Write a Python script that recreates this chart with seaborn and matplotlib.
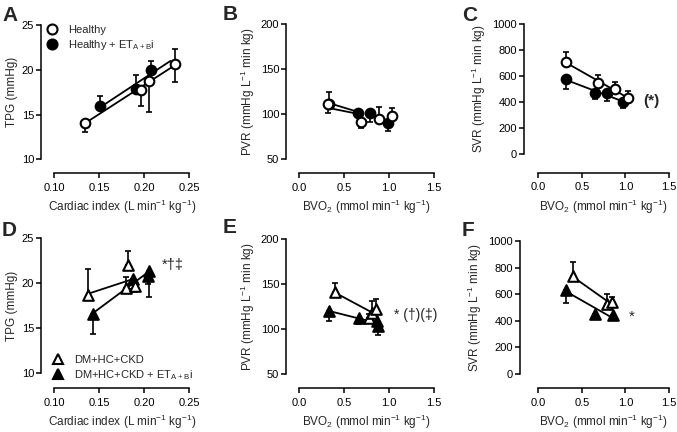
import numpy as np
import pandas as pd
import matplotlib
matplotlib.use("Agg")
import matplotlib.pyplot as plt
from matplotlib.lines import Line2D
import seaborn as sns

sns.set_style("ticks")
plt.rcParams["font.family"] = ["Liberation Sans", "DejaVu Sans"]
plt.rcParams["mathtext.default"] = "regular"

# ---------------- data ----------------
# Panel A  TPG vs cardiac index, healthy
A_open_x = [0.134, 0.196, 0.205, 0.234]
A_open_y = [14.1, 17.7, 18.8, 20.6]
A_open_lo = [1.1, 1.7, 3.5, 2.0]
A_open_hi = [0.0, 0.0, 0.0, 1.7]
A_fill_x = [0.151, 0.191, 0.207]
A_fill_y = [16.0, 17.8, 20.0]
A_fill_lo = [0.0, 0.0, 0.0]
A_fill_hi = [1.1, 1.6, 1.0]
A_open_range = [0.134, 0.234]
A_fill_range = [0.151, 0.229]

# Panel B  PVR vs BVO2, healthy
B_open_x = [0.326, 0.685, 0.885, 1.037]
B_open_y = [111.4, 91.8, 94.4, 98.1]
B_open_lo = [10.3, 6.8, 0.0, 0.0]
B_open_hi = [0.0, 0.0, 14.0, 8.5]
B_fill_x = [0.33, 0.659, 0.789, 0.985]
B_fill_y = [112.0, 101.8, 101.8, 90.7]
B_fill_lo = [0.0, 0.0, 10.0, 9.0]
B_fill_hi = [13.0, 0.0, 0.0, 0.0]
B_open_range = [0.33, 0.66]
B_fill_range = [0.33, 0.66]

# Panel C  SVR vs BVO2, healthy
C_open_x = [0.318, 0.688, 0.879, 1.032]
C_open_y = [710, 545, 499, 434]
C_open_lo = [0, 0, 0, 0]
C_open_hi = [73, 64, 58, 54]
C_fill_x = [0.318, 0.65, 0.784, 0.975]
C_fill_y = [576, 468, 468, 404]
C_fill_lo = [77, 44, 56, 51]
C_fill_hi = [0, 0, 0, 0]
C_open_range = [0.318, 1.032]
C_fill_range = [0.318, 0.975]

# Panel D  TPG vs cardiac index, DM+HC+CKD
D_open_x = [0.137, 0.182, 0.180, 0.190]
D_open_y = [18.7, 22.0, 19.5, 19.7]
D_open_lo = [0.0, 0.0, 0.0, 0.7]
D_open_hi = [2.9, 1.6, 1.2, 0.0]
D_fill_x = [0.1435, 0.188, 0.204, 0.2055]
D_fill_y = [16.6, 20.5, 20.8, 21.4]
D_fill_lo = [2.2, 1.1, 0.9, 2.9]
D_fill_hi = [0.0, 0.0, 0.0, 0.0]
D_open_range = [0.137, 0.190]
D_fill_range = [0.1435, 0.2055]

# Panel E  PVR vs BVO2, DM+HC+CKD
E_open_x = [0.40, 0.78, 0.81, 0.852]
E_open_y = [141.5, 112.5, 118.0, 122.5]
E_open_lo = [0, 0, 0, 0]
E_open_hi = [10, 4, 13, 11]
E_fill_x = [0.337, 0.67, 0.872, 0.88]
E_fill_y = [119.5, 112.0, 108.5, 103.5]
E_fill_lo = [11, 7, 0, 10]
E_fill_hi = [0, 0, 0, 0]
E_open_range = [0.40, 0.807]
E_fill_range = [0.337, 0.807]

# Panel F  SVR vs BVO2, DM+HC+CKD
F_open_x = [0.393, 0.79, 0.845]
F_open_y = [735, 530, 540]
F_open_lo = [0, 0, 0]
F_open_hi = [110, 70, 40]
F_fill_x = [0.322, 0.656, 0.861]
F_fill_y = [635, 453, 444]
F_fill_lo = [103, 37, 30]
F_fill_hi = [0, 0, 0]
F_open_range = [0.39, 0.823]
F_fill_range = [0.325, 0.843]

ci_ticks = [0.10, 0.15, 0.20, 0.25]
ci_ticklabels = ["0.10", "0.15", "0.20", "0.25"]
bvo_ticks = [0.0, 0.5, 1.0, 1.5]
bvo_ticklabels = ["0.0", "0.5", "1.0", "1.5"]
tpg_ticks = [10, 15, 20, 25]
pvr_ticks = [50, 100, 150, 200]
svr_ticks = [0, 200, 400, 600, 800, 1000]

ci_label = "Cardiac index (L min$^{-1}$ kg$^{-1}$)"
bvo_label = "BVO$_2$ (mmol min$^{-1}$ kg$^{-1}$)"
tpg_label = "TPG (mmHg)"
pvr_label = "PVR (mmHg L$^{-1}$ min kg)"
svr_label = "SVR (mmHg L$^{-1}$ min kg)"

legend_top = ["Healthy", "Healthy + ET$_{A+B}$i"]
legend_bottom = ["DM+HC+CKD", "DM+HC+CKD + ET$_{A+B}$i"]

# ---------------- layout ----------------
W, H = 677, 432
fig = plt.figure(figsize=(W / 100, H / 100), dpi=100)

def px_axes(x0, y0, x1, y1):
    return fig.add_axes([x0 / W, 1 - y1 / H, (x1 - x0) / W, (y1 - y0) / H])

PT = 0.72  # px -> pt

panels = [
    dict(name="A", rect=(54.3, 25, 189.3, 159.3), yspine=41, xspine=173,
         letter=(2, 21),
         xlim=(0.10, 0.25), ylim=(10, 25), xt=ci_ticks, xtl=ci_ticklabels, yt=tpg_ticks,
         xl=ci_label, yl=tpg_label, marker="o",
         open=(A_open_x, A_open_y, A_open_lo, A_open_hi, A_open_range),
         fill=(A_fill_x, A_fill_y, A_fill_lo, A_fill_hi, A_fill_range)),
    dict(name="B", rect=(299, 24.3, 434, 159.3), yspine=286, xspine=173,
         letter=(223, 20),
         xlim=(0.0, 1.5), ylim=(50, 200), xt=bvo_ticks, xtl=bvo_ticklabels, yt=pvr_ticks,
         xl=bvo_label, yl=pvr_label, marker="o",
         open=(B_open_x, B_open_y, B_open_lo, B_open_hi, B_open_range),
         fill=(B_fill_x, B_fill_y, B_fill_lo, B_fill_hi, B_fill_range)),
    dict(name="C", rect=(538.3, 24, 669, 154.3), yspine=524, xspine=172.5,
         letter=(462, 21),
         xlim=(0.0, 1.5), ylim=(0, 1000), xt=bvo_ticks, xtl=bvo_ticklabels, yt=svr_ticks,
         xl=bvo_label, yl=svr_label, marker="o",
         open=(C_open_x, C_open_y, C_open_lo, C_open_hi, C_open_range),
         fill=(C_fill_x, C_fill_y, C_fill_lo, C_fill_hi, C_fill_range)),
    dict(name="D", rect=(54.3, 238.3, 189.3, 373.3), yspine=41, xspine=388,
         letter=(2, 236),
         xlim=(0.10, 0.25), ylim=(10, 25), xt=ci_ticks, xtl=ci_ticklabels, yt=tpg_ticks,
         xl=ci_label, yl=tpg_label, marker="^",
         open=(D_open_x, D_open_y, D_open_lo, D_open_hi, D_open_range),
         fill=(D_fill_x, D_fill_y, D_fill_lo, D_fill_hi, D_fill_range)),
    dict(name="E", rect=(299, 239, 434, 373.7), yspine=286, xspine=388,
         letter=(223, 233),
         xlim=(0.0, 1.5), ylim=(50, 200), xt=bvo_ticks, xtl=bvo_ticklabels, yt=pvr_ticks,
         xl=bvo_label, yl=pvr_label, marker="^",
         open=(E_open_x, E_open_y, E_open_lo, E_open_hi, E_open_range),
         fill=(E_fill_x, E_fill_y, E_fill_lo, E_fill_hi, E_fill_range)),
    dict(name="F", rect=(538.3, 241, 669, 374), yspine=520, xspine=388,
         letter=(462, 236),
         xlim=(0.0, 1.5), ylim=(0, 1000), xt=bvo_ticks, xtl=bvo_ticklabels, yt=svr_ticks,
         xl=bvo_label, yl=svr_label, marker="^",
         open=(F_open_x, F_open_y, F_open_lo, F_open_hi, F_open_range),
         fill=(F_fill_x, F_fill_y, F_fill_lo, F_fill_hi, F_fill_range)),
]

axes = {}
for p in panels:
    x0, y0, x1, y1 = p["rect"]
    ax = px_axes(x0, y0, x1, y1)
    axes[p["name"]] = ax
    ms = 48 if p["marker"] == "o" else 58
    for key, face, z in (("fill", "black", 3), ("open", "white", 4)):
        xs, ys, lo, hi, rng = p[key]
        xs = np.asarray(xs, float)
        ys = np.asarray(ys, float)
        # regression line
        slope, icpt = np.polyfit(xs, ys, 1)
        lx = np.asarray(rng, float)
        sns.lineplot(x=lx, y=slope * lx + icpt, color="black", linewidth=1.3,
                     ax=ax, zorder=2, estimator=None)
        ax.errorbar(xs, ys, yerr=[lo, hi], fmt="none", ecolor="black",
                    elinewidth=1.2, capsize=2.3, capthick=1.2, zorder=2.5)
        df = pd.DataFrame({"x": xs, "y": ys})
        sns.scatterplot(data=df, x="x", y="y", marker=p["marker"], s=ms,
                        color=face, edgecolor="black", linewidth=1.5,
                        ax=ax, zorder=z, clip_on=False, legend=False)
    ax.set_xlim(*p["xlim"])
    ax.set_ylim(*p["ylim"])
    ax.set_xticks(p["xt"])
    ax.set_xticklabels(p["xtl"])
    ax.set_yticks(p["yt"])
    ax.set_xlabel(p["xl"], fontsize=8.5, labelpad=4)
    ax.set_ylabel(p["yl"], fontsize=8.5, labelpad=3)
    for s in ("top", "right"):
        ax.spines[s].set_visible(False)
    ax.spines["left"].set_position(("outward", (x0 - p["yspine"]) * PT))
    ax.spines["bottom"].set_position(("outward", (p["xspine"] - y1) * PT))
    for s in ("left", "bottom"):
        ax.spines[s].set_linewidth(1.1)
        ax.spines[s].set_color("black")
    ax.tick_params(axis="both", direction="out", length=3.4, width=1.1,
                   labelsize=8, colors="black")
    ax.tick_params(axis="x", pad=3.5)
    ax.tick_params(axis="y", pad=1.5)
    ax.patch.set_alpha(0)
    lx_, ly_ = p["letter"]
    fig.text(lx_ / W, 1 - ly_ / H, p["name"], fontsize=15, fontweight="bold",
             ha="left", va="baseline")

# legends
h_open_c = Line2D([], [], marker="o", ls="none", mfc="white", mec="black", mew=1.5, ms=7.2)
h_fill_c = Line2D([], [], marker="o", ls="none", mfc="black", mec="black", mew=1.5, ms=7.2)
fig.legend([h_open_c, h_fill_c], legend_top, loc="upper left",
           bbox_to_anchor=(46 / W, 1 - 25 / H), frameon=False, fontsize=8,
           handlelength=1.0, handletextpad=1.0, labelspacing=0.3, borderpad=0,
           borderaxespad=0)
h_open_t = Line2D([], [], marker="^", ls="none", mfc="white", mec="black", mew=1.5, ms=7.5)
h_fill_t = Line2D([], [], marker="^", ls="none", mfc="black", mec="black", mew=1.5, ms=7.5)
fig.legend([h_open_t, h_fill_t], legend_bottom, loc="upper left",
           bbox_to_anchor=(52 / W, 1 - 355 / H), frameon=False, fontsize=8,
           handlelength=1.0, handletextpad=1.0, labelspacing=0.3, borderpad=0,
           borderaxespad=0)

# significance annotations
axes["C"].text(1.21, 410, "(*)", fontsize=11, fontweight="bold", ha="left", va="center", clip_on=False)
axes["D"].text(0.2197, 22.0, "*†‡", fontsize=10.5, ha="left", va="center", clip_on=False)
axes["E"].text(1.055, 115.4, "* (†)(‡)", fontsize=10, ha="left", va="center", clip_on=False)
axes["F"].text(1.07, 431, "*", fontsize=11, ha="center", va="center", clip_on=False)

fig.savefig("out.png", dpi=100)
